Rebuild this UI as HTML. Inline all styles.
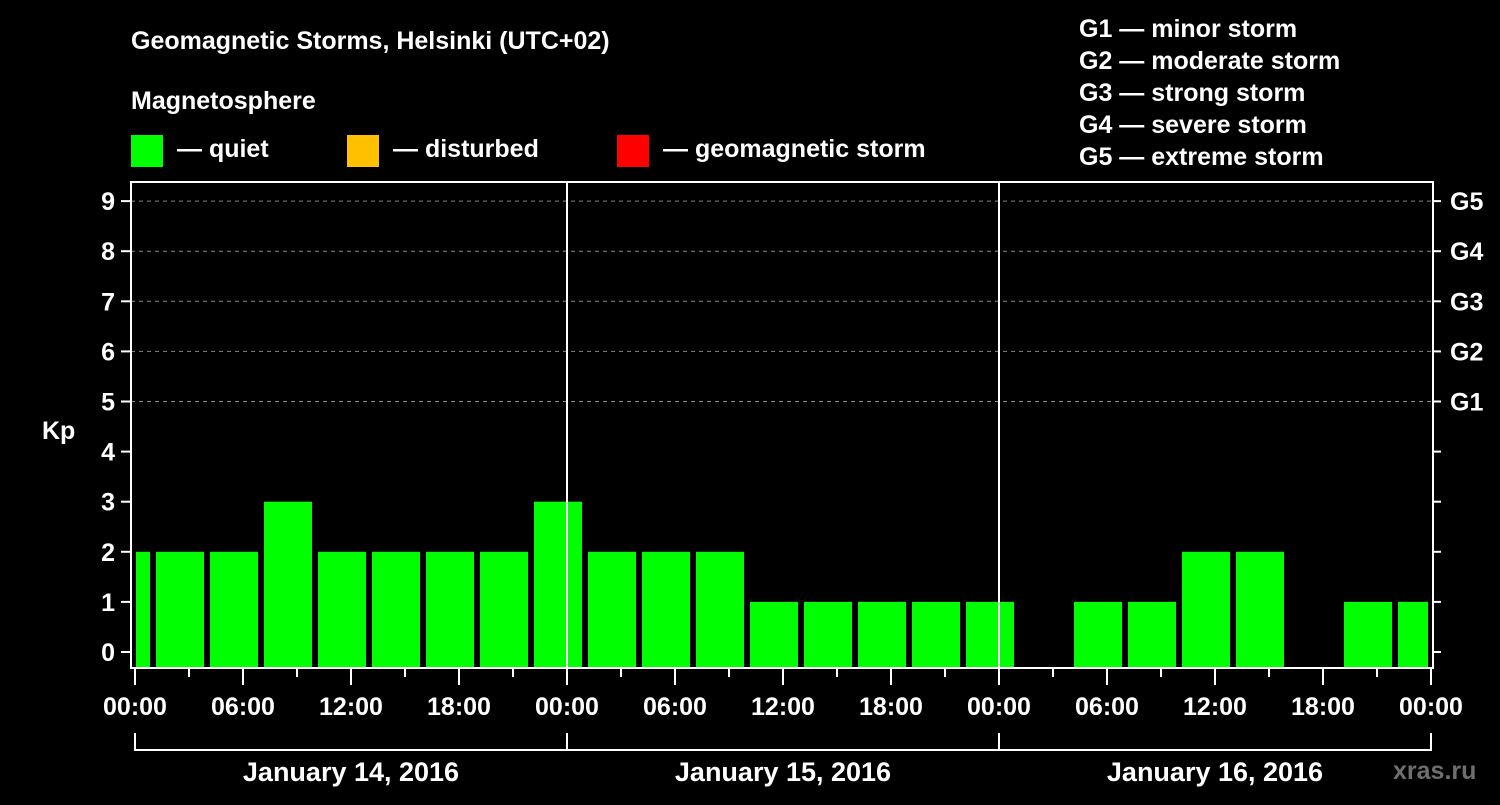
<!DOCTYPE html>
<html><head><meta charset="utf-8"><style>
body{margin:0;background:#000;width:1500px;height:800px;overflow:hidden}
svg text{font-family:"Liberation Sans",Arial,sans-serif;font-weight:bold;fill:#fff}
</style></head><body>
<svg id="c" width="1500" height="800" xmlns="http://www.w3.org/2000/svg">
<rect width="1500" height="800" fill="#000"/>
<text x="131" y="49" font-size="25">Geomagnetic Storms, Helsinki (UTC+02)</text>
<text x="131" y="109" font-size="25">Magnetosphere</text>
<g><rect x="131" y="135" width="32" height="32" fill="#00ff00"/><text x="177" y="157" font-size="25">— quiet</text></g>
<g><rect x="347" y="135" width="32" height="32" fill="#ffc000"/><text x="393" y="157" font-size="25">— disturbed</text></g>
<g><rect x="617" y="135" width="32" height="32" fill="#ff0000"/><text x="663" y="157" font-size="25">— geomagnetic storm</text></g>
<g font-size="25">
<text x="1079" y="37" font-size="25">G1 — minor storm</text>
<text x="1079" y="69" font-size="25">G2 — moderate storm</text>
<text x="1079" y="101" font-size="25">G3 — strong storm</text>
<text x="1079" y="133" font-size="25">G4 — severe storm</text>
<text x="1079" y="165" font-size="25">G5 — extreme storm</text>
</g>
<text x="42" y="439" font-size="25">Kp</text>
<text x="1393" y="779" font-size="25" fill="#777" style="fill:#6e6e6e">xras.ru</text>
<g id="grid"></g><g id="bars"></g><g id="axes"></g>
</svg>
<script>
const kpValues=[2,2,2,3,2,2,2,2,3,2,2,2,1,1,1,1,1,0,1,1,2,2,0,1,1];
const yTicks=[0,1,2,3,4,5,6,7,8,9];
const gLabels=["G1","G2","G3","G4","G5"];
const xTickLabels=["00:00","06:00","12:00","18:00","00:00","06:00","12:00","18:00","00:00","06:00","12:00","18:00","00:00"];
const dayLabels=["January 14, 2016","January 15, 2016","January 16, 2016"];
const NS="http://www.w3.org/2000/svg";
const L=131,R=1433,T=182,B=668,X0=135,PXH=18;
const x=h=>X0+h*PXH;
const y=v=>652-50.1*v;
function mk(t,a,p){const e=document.createElementNS(NS,t);for(const k in a)e.setAttribute(k,a[k]);p.appendChild(e);return e;}
const grid=document.getElementById('grid'),bars=document.getElementById('bars'),axes=document.getElementById('axes');
yTicks.forEach(v=>{
 if(v>=5){const g=mk('line',{x1:L,x2:R,y1:y(v),y2:y(v),stroke:'#888','stroke-dasharray':'4,4','stroke-width':1},grid);
 
 }
 const t=mk('line',{x1:L-10,x2:L,y1:y(v),y2:y(v),stroke:'#fff','stroke-width':2},axes);
 
 
 const t2=mk('line',{x1:R,x2:R+8,y1:y(v),y2:y(v),stroke:'#fff','stroke-width':2},axes);
 
 
 const lb=mk('text',{x:L-16,y:y(v)+9,'text-anchor':'end','font-size':25},axes);lb.textContent=v;
 
 
});
gLabels.forEach((g,i)=>{const lb=mk('text',{x:1450,y:y(5+i)+9,'font-size':25},axes);lb.textContent=g;
 
 });
const clipMax=1428;
kpValues.forEach((v,i)=>{
 const c=x(-0.5+3*i); let x1=c-24,x2=c+24;
 x1=Math.max(x1,X0+1); x2=Math.min(x2,clipMax);
 if(v<=0)return;
 const r=mk('rect',{x:x1,y:y(v),width:x2-x1,height:B-y(v),fill:'#00ff00'},bars);
 
 
});
const fr=mk('rect',{x:L,y:T,width:R-L,height:B-T,fill:'none',stroke:'#fff','stroke-width':2},axes);


[1,2].forEach(d=>{const l=mk('line',{x1:x(24*d),x2:x(24*d),y1:T,y2:B,stroke:'#fff','stroke-width':2},axes);
 
 });
for(let h=0;h<=72;h+=3){const major=h%6===0;
 const t=mk('line',{x1:x(h),x2:x(h),y1:B,y2:B+(major?17:9),stroke:'#fff','stroke-width':2},axes);
 
 }
xTickLabels.forEach((s,i)=>{const lb=mk('text',{x:x(6*i),y:715,'text-anchor':'middle','font-size':25},axes);lb.textContent=s;
 
 });
const br=mk('path',{d:`M${x(0)} 733V750H${x(72)}V733`,fill:'none',stroke:'#fff','stroke-width':2},axes);


[24,48].forEach(h=>{const l=mk('line',{x1:x(h),x2:x(h),y1:733,y2:750,stroke:'#fff','stroke-width':2},axes);
 
 });
dayLabels.forEach((s,i)=>{const lb=mk('text',{x:x(24*i+12),y:781,'text-anchor':'middle','font-size':27},axes);lb.textContent=s;
 
 });
</script>
</body></html>
